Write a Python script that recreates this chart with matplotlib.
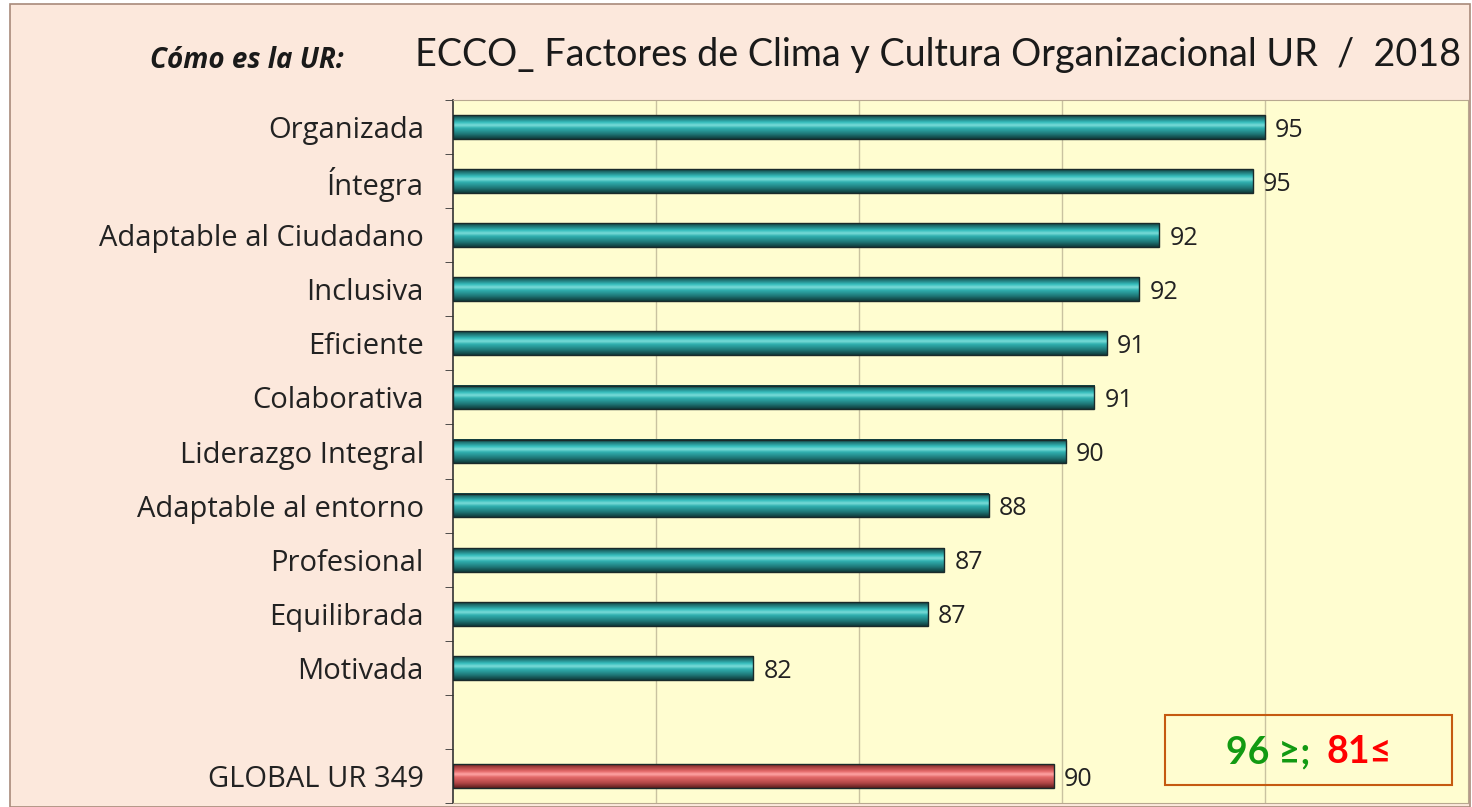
import numpy as np
import matplotlib
matplotlib.use("Agg")
import matplotlib.pyplot as plt
from matplotlib.colors import LinearSegmentedColormap
from matplotlib.patches import Rectangle

# datos
categorias = ["Organizada", "Íntegra", "Adaptable al Ciudadano", "Inclusiva",
              "Eficiente", "Colaborativa", "Liderazgo Integral",
              "Adaptable al entorno", "Profesional", "Equilibrada", "Motivada"]
valores = [95.0, 94.7, 92.4, 91.9, 91.1, 90.8, 90.1, 88.2, 87.1, 86.7, 82.4]
global_label = "GLOBAL UR 349"
global_valor = 89.8
xmin, xmax = 75, 100
grid_x = [80, 85, 90, 95]

plt.rcParams['font.family'] = ['Lato', 'DejaVu Sans']
fuente_ejes = ['Open Sans', 'DejaVu Sans']

fig = plt.figure(figsize=(14.72, 8.07), dpi=100, facecolor='white')
# fondo salmon con borde
fig.patches.append(Rectangle((10/1472, 0.0), 1460/1472, 1 - 4/807, transform=fig.transFigure,
                             facecolor='#FCE8DC', edgecolor='#A88A7A', lw=1.2, zorder=-10))

ax = fig.add_axes([453/1472, 4/807, 1015/1472, 1 - 4/807 - 100/807])
ax.set_zorder(1)
ax.set_facecolor('#FFFDD0')

teal = LinearSegmentedColormap.from_list('teal', [
    (0.0, '#123F3F'), (0.12, '#1F7373'), (0.3, '#35BDBD'), (0.42, '#7ADCD8'),
    (0.55, '#2FAFAF'), (0.8, '#1E7575'), (1.0, '#0F3A3A')])
rojo = LinearSegmentedColormap.from_list('rojo', [
    (0.0, '#6E2222'), (0.12, '#A84040'), (0.3, '#E56A6A'), (0.42, '#FFA5A5'),
    (0.55, '#E36868'), (0.8, '#B04545'), (1.0, '#5E1E1E')])
grad = np.linspace(0, 1, 64).reshape(-1, 1)

def barra(y, v, cmap, h=0.44):
    ax.imshow(grad, cmap=cmap, aspect='auto', extent=[xmin, v, y + h/2, y - h/2],
              interpolation='bilinear', zorder=3)
    ax.add_patch(Rectangle((xmin, y - h/2), v - xmin, h, fill=False,
                           edgecolor='#1A2A2A', lw=1.0, zorder=4))

ys = list(range(len(categorias)))
for y, v in zip(ys, valores):
    barra(y, v, teal)
    ax.text(v + 0.25, y + 0.06, f"{round(v)}", va='center', ha='left',
            fontsize=18, color='#222222', family=fuente_ejes, zorder=5)
y_global = len(categorias) + 1
barra(y_global, global_valor, rojo)
ax.text(global_valor + 0.25, y_global + 0.06, f"{round(global_valor)}", va='center',
        ha='left', fontsize=18, color='#222222', family=fuente_ejes, zorder=5)

ax.set_xlim(xmin, xmax)
ax.set_ylim(y_global + 0.5, -0.5)
for gx in grid_x:
    ax.axvline(gx, color='#C9C2A0', lw=1.0, zorder=1)

ax.set_yticks(ys + [y_global])
ax.set_yticklabels(categorias + [global_label], fontsize=21, color='#222222',
                   family=fuente_ejes)
ax.tick_params(axis='y', which='major', length=0, pad=21)
ax.set_yticks(np.arange(-0.5, y_global + 0.6, 1), minor=True)
ax.tick_params(axis='y', which='minor', length=6, direction='out', color='#333333')
ax.set_xticks([])
for s in ['top', 'right', 'bottom']:
    ax.spines[s].set_color('#B8A890')
ax.spines['left'].set_color('#333333')
ax.spines['left'].set_linewidth(1.2)

# titulos
fig.text(150/1472, 1 - 60/807, "Cómo es la UR:", fontsize=20, fontweight='bold',
         style='italic', family=['Open Sans', 'DejaVu Sans'], color='#1A1A1A', va='center')
fig.text(415/1472, 1 - 55/807, "ECCO_ Factores de Clima y Cultura Organizacional UR  /  2018",
         fontsize=27.2, color='#1A1A1A', va='center')

# recuadro de rangos
fig.patches.append(Rectangle((1165/1472, 1 - 785/807), 287/1472, 70/807, transform=fig.transFigure,
                             fill=False, edgecolor='#C55A11', lw=1.5, zorder=6))
fig.text(1226/1472, 1 - 752/807, "96 ≥;", fontsize=27, fontweight='bold',
         color='#129A12', va='center', zorder=7)
fig.text(1326/1472, 1 - 752/807, "81≤", fontsize=27, fontweight='bold',
         color='#FF0000', va='center', zorder=7)

fig.savefig("out.png", dpi=100, facecolor=fig.get_facecolor())
